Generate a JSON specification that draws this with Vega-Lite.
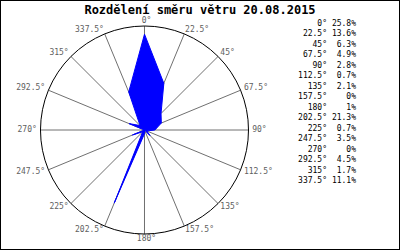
{
  "$schema": "https://vega.github.io/schema/vega-lite/v6.json",
  "width": 400,
  "height": 250,
  "autosize": {"type": "none"},
  "padding": 0,
  "background": "white",
  "config": {"view": {"stroke": "#000", "strokeWidth": 2}},
  "title": {
    "text": "Rozdělení směru větru 20.08.2015",
    "font": "DejaVu Sans Mono",
    "fontSize": 12,
    "fontWeight": "bold",
    "color": "#000",
    "anchor": "middle",
    "frame": "group",
    "baseline": "top",
    "offset": -17
  },
  "data": {
    "values": [
      {"dir": 0, "pct": 25.8},
      {"dir": 22.5, "pct": 13.6},
      {"dir": 45, "pct": 6.3},
      {"dir": 67.5, "pct": 4.9},
      {"dir": 90, "pct": 2.8},
      {"dir": 112.5, "pct": 0.7},
      {"dir": 135, "pct": 2.1},
      {"dir": 157.5, "pct": 0},
      {"dir": 180, "pct": 1},
      {"dir": 202.5, "pct": 21.3},
      {"dir": 225, "pct": 0.7},
      {"dir": 247.5, "pct": 3.5},
      {"dir": 270, "pct": 0},
      {"dir": 292.5, "pct": 4.5},
      {"dir": 315, "pct": 1.7},
      {"dir": 337.5, "pct": 11.1}
    ]
  },
  "transform": [
    {"calculate": "datum.dir * PI / 180", "as": "a"},
    {"calculate": "datum.pct / 28 * sin(datum.a)", "as": "px"},
    {"calculate": "datum.pct / 28 * cos(datum.a)", "as": "py"},
    {"calculate": "sin(datum.a)", "as": "sx"},
    {"calculate": "cos(datum.a)", "as": "sy"},
    {"calculate": "0", "as": "zero"},
    {"calculate": "1.045 * sin(datum.a)", "as": "lx"},
    {"calculate": "1.045 * cos(datum.a)", "as": "ly"},
    {"calculate": "1.7548", "as": "colA"},
    {"calculate": "2.0337", "as": "colB"},
    {"calculate": "datum.dir + '°'", "as": "dlabel"},
    {"calculate": "datum.pct + '%'", "as": "plabel"}
  ],
  "resolve": {"scale": {"y": "independent"}},
  "layer": [
    {
      "mark": {"type": "rule", "color": "#707070", "strokeWidth": 1},
      "encoding": {
        "x": {"field": "zero", "type": "quantitative", "scale": {"domain": [-1.3894, 2.4567], "nice": false, "zero": false}, "axis": null},
        "y": {"field": "zero", "type": "quantitative", "scale": {"domain": [-1.1538, 1.25], "nice": false, "zero": false}, "axis": null},
        "x2": {"field": "sx"},
        "y2": {"field": "sy"}
      }
    },
    {
      "data": {"values": [{"c": 0}]},
      "mark": {"type": "point", "shape": "circle", "filled": false, "size": 43264, "stroke": "#000", "strokeWidth": 1, "opacity": 1},
      "encoding": {
        "x": {"field": "c", "type": "quantitative", "scale": {"domain": [-1.3894, 2.4567], "nice": false, "zero": false}, "axis": null},
        "y": {"field": "c", "type": "quantitative", "scale": {"domain": [-1.1538, 1.25], "nice": false, "zero": false}, "axis": null}
      }
    },
    {
      "mark": {"type": "line", "interpolate": "linear-closed", "fill": "#0000ff", "stroke": "#0000ff", "strokeWidth": 1},
      "encoding": {
        "x": {"field": "px", "type": "quantitative", "scale": {"domain": [-1.3894, 2.4567], "nice": false, "zero": false}, "axis": null},
        "y": {"field": "py", "type": "quantitative", "scale": {"domain": [-1.1538, 1.25], "nice": false, "zero": false}, "axis": null},
        "order": {"field": "dir", "type": "quantitative"}
      }
    },
    {
      "transform": [{"filter": "datum.dir > 0 && datum.dir < 180"}],
      "mark": {"type": "text", "align": "left", "baseline": "middle", "font": "DejaVu Sans Mono", "fontSize": 8, "color": "#606060", "dx": -1},
      "encoding": {
        "x": {"field": "lx", "type": "quantitative", "scale": {"domain": [-1.3894, 2.4567], "nice": false, "zero": false}, "axis": null},
        "y": {"field": "ly", "type": "quantitative", "scale": {"domain": [-1.1538, 1.25], "nice": false, "zero": false}, "axis": null},
        "text": {"field": "dlabel"}
      }
    },
    {
      "transform": [{"filter": "datum.dir > 180"}],
      "mark": {"type": "text", "align": "right", "baseline": "middle", "font": "DejaVu Sans Mono", "fontSize": 8, "color": "#606060", "dx": 1},
      "encoding": {
        "x": {"field": "lx", "type": "quantitative", "scale": {"domain": [-1.3894, 2.4567], "nice": false, "zero": false}, "axis": null},
        "y": {"field": "ly", "type": "quantitative", "scale": {"domain": [-1.1538, 1.25], "nice": false, "zero": false}, "axis": null},
        "text": {"field": "dlabel"}
      }
    },
    {
      "transform": [{"filter": "datum.dir == 0 || datum.dir == 180"}],
      "mark": {"type": "text", "align": "center", "baseline": "middle", "font": "DejaVu Sans Mono", "fontSize": 8, "color": "#606060", "dx": 2},
      "encoding": {
        "x": {"field": "lx", "type": "quantitative", "scale": {"domain": [-1.3894, 2.4567], "nice": false, "zero": false}, "axis": null},
        "y": {"field": "ly", "type": "quantitative", "scale": {"domain": [-1.1538, 1.25], "nice": false, "zero": false}, "axis": null},
        "text": {"field": "dlabel"}
      }
    },
    {
      "mark": {"type": "text", "align": "right", "baseline": "middle", "font": "DejaVu Sans Mono", "fontSize": 8, "color": "#000"},
      "encoding": {
        "x": {"field": "colA", "type": "quantitative", "scale": {"domain": [-1.3894, 2.4567], "nice": false, "zero": false}, "axis": null},
        "y": {"field": "dir", "type": "ordinal", "scale": {"type": "point", "range": [24, 181], "padding": 0}, "axis": null},
        "text": {"field": "dlabel"}
      }
    },
    {
      "mark": {"type": "text", "align": "right", "baseline": "middle", "font": "DejaVu Sans Mono", "fontSize": 8, "color": "#000"},
      "encoding": {
        "x": {"field": "colB", "type": "quantitative", "scale": {"domain": [-1.3894, 2.4567], "nice": false, "zero": false}, "axis": null},
        "y": {"field": "dir", "type": "ordinal", "scale": {"type": "point", "range": [24, 181], "padding": 0}, "axis": null},
        "text": {"field": "plabel"}
      }
    }
  ]
}
